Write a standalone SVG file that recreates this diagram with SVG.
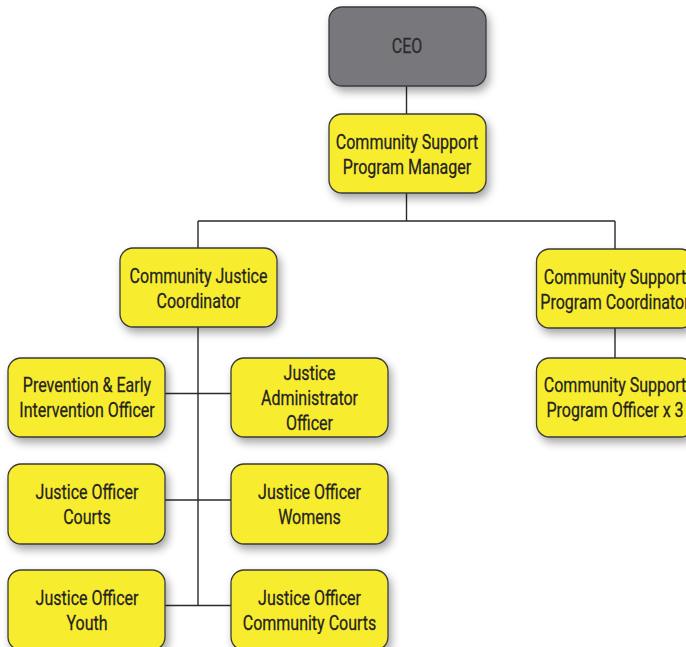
<svg xmlns="http://www.w3.org/2000/svg" width="686" height="647" viewBox="0 0 686 647">
  <defs>
    <filter id="shadow" x="-20%" y="-20%" width="150%" height="160%">
      <feDropShadow dx="3" dy="5" stdDeviation="4" flood-color="#000" flood-opacity="0.35"/>
    </filter>
    <style>
      .box { fill: #f7ec2d; stroke: #3a3a3a; stroke-width: 1.3; filter: url(#shadow); }
      .ceo { fill: #77777b; }
      .lbl { font-family: Roboto, "Liberation Sans", sans-serif; font-size: 20px; fill: #222222; text-anchor: middle; stroke: #222222; stroke-width: 0.25; }
      .ceo-lbl { fill: #2b2b2b; stroke: #2b2b2b; }
      .wire { fill: none; stroke: #2a2a2a; stroke-width: 1.4; }
    </style>
  </defs>
  <rect width="686" height="647" fill="#ffffff"/>

  <!-- connectors -->
  <g id="connectors" class="wire">
    <path d="M406.5 86 V114"/>
    <path d="M406.5 193 V221 M198 221 H615 M198 221 V248 M615 221 V249"/>
    <path d="M615 328 V358"/>
    <path d="M198 327 V606"/>
    <path d="M165 393.5 H231"/>
    <path d="M165 500 H231"/>
    <path d="M165 605.5 H231"/>
  </g>

  <!-- nodes -->
  <g id="ceo">
    <rect class="box ceo" x="329" y="7" width="157" height="79" rx="13"/>
    <text class="lbl ceo-lbl" transform="translate(407 0) scale(0.8 1)" x="0" y="53">CEO</text>
  </g>
  <g id="program-manager">
    <rect class="box" x="329" y="114" width="157" height="79" rx="13"/>
    <text class="lbl" transform="translate(407 0) scale(0.8 1)" x="0" y="149">Community Support</text>
    <text class="lbl" transform="translate(407 0) scale(0.8 1)" x="0" y="174">Program Manager</text>
  </g>
  <g id="justice-coordinator">
    <rect class="box" x="120" y="248" width="157" height="79" rx="13"/>
    <text class="lbl" transform="translate(198.5 0) scale(0.8 1)" x="0" y="283">Community Justice</text>
    <text class="lbl" transform="translate(198.5 0) scale(0.8 1)" x="0" y="308">Coordinator</text>
  </g>
  <g id="support-coordinator">
    <rect class="box" x="536.5" y="249" width="157" height="79" rx="13"/>
    <text class="lbl" transform="translate(615 0) scale(0.8 1)" x="0" y="284">Community Support</text>
    <text class="lbl" transform="translate(615 0) scale(0.8 1)" x="0" y="309">Program Coordinator</text>
  </g>
  <g id="support-officer">
    <rect class="box" x="536.5" y="358" width="157" height="79" rx="13"/>
    <text class="lbl" transform="translate(615 0) scale(0.8 1)" x="0" y="392">Community Support</text>
    <text class="lbl" transform="translate(615 0) scale(0.8 1)" x="0" y="417">Program Officer x 3</text>
  </g>
  <g id="prevention-officer">
    <rect class="box" x="8" y="358" width="157" height="79" rx="13"/>
    <text class="lbl" transform="translate(87 0) scale(0.8 1)" x="0" y="392">Prevention &amp; Early</text>
    <text class="lbl" transform="translate(87 0) scale(0.8 1)" x="0" y="417">Intervention Officer</text>
  </g>
  <g id="administrator-officer">
    <rect class="box" x="231" y="358" width="157" height="79" rx="13"/>
    <text class="lbl" transform="translate(309.5 0) scale(0.8 1)" x="0" y="380">Justice</text>
    <text class="lbl" transform="translate(309.5 0) scale(0.8 1)" x="0" y="405">Administrator</text>
    <text class="lbl" transform="translate(309.5 0) scale(0.8 1)" x="0" y="430">Officer</text>
  </g>
  <g id="officer-courts">
    <rect class="box" x="8" y="464" width="157" height="80" rx="13"/>
    <text class="lbl" transform="translate(87 0) scale(0.8 1)" x="0" y="499">Justice Officer</text>
    <text class="lbl" transform="translate(87 0) scale(0.8 1)" x="0" y="524">Courts</text>
  </g>
  <g id="officer-womens">
    <rect class="box" x="231" y="464" width="157" height="80" rx="13"/>
    <text class="lbl" transform="translate(309.5 0) scale(0.8 1)" x="0" y="499">Justice Officer</text>
    <text class="lbl" transform="translate(309.5 0) scale(0.8 1)" x="0" y="524">Womens</text>
  </g>
  <g id="officer-youth">
    <rect class="box" x="8" y="570" width="157" height="80" rx="13"/>
    <text class="lbl" transform="translate(87 0) scale(0.8 1)" x="0" y="605">Justice Officer</text>
    <text class="lbl" transform="translate(87 0) scale(0.8 1)" x="0" y="630">Youth</text>
  </g>
  <g id="officer-community-courts">
    <rect class="box" x="231" y="570" width="157" height="80" rx="13"/>
    <text class="lbl" transform="translate(309.5 0) scale(0.8 1)" x="0" y="605">Justice Officer</text>
    <text class="lbl" transform="translate(309.5 0) scale(0.8 1)" x="0" y="630">Community Courts</text>
  </g>
</svg>
